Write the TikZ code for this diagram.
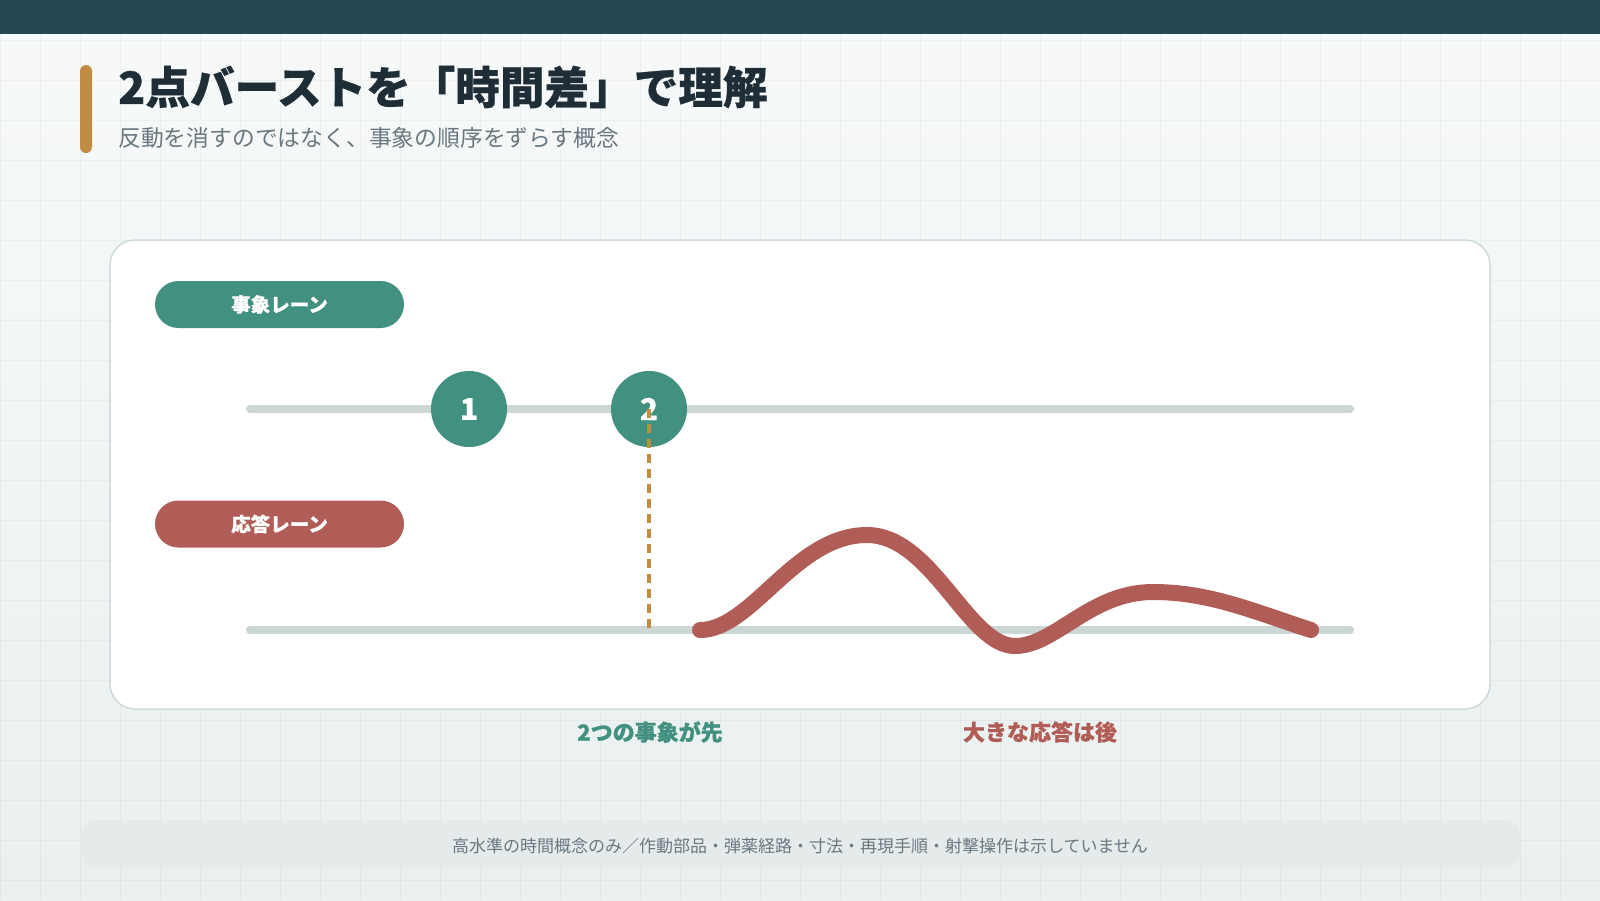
\documentclass[tikz,border=0pt]{standalone}
\usepackage{fontspec}
\usepackage{xcolor}
\newfontfamily\jpfont{Noto Sans CJK JP}
\IfFontExistsTF{Noto Sans CJK JP Black}
  {\newfontfamily\jpheavy[FakeBold=0.6]{Noto Sans CJK JP Black}}
  {\IfFontExistsTF{Noto Sans CJK JP Bold}
     {\newfontfamily\jpheavy[FakeBold=2.2]{Noto Sans CJK JP Bold}}
     {\newfontfamily\jpheavy[FakeBold=3.5]{Noto Sans CJK JP}}}
\definecolor{barc}{HTML}{264853}
\definecolor{goldc}{HTML}{C08D42}
\definecolor{titlec}{HTML}{1E2D36}
\definecolor{subc}{HTML}{6A7880}
\definecolor{eventc}{HTML}{42907F}
\definecolor{respc}{HTML}{B05D57}
\definecolor{lanec}{HTML}{CBD6D5}
\definecolor{cardc}{HTML}{CFDADA}
\definecolor{bgtop}{HTML}{F8FAFA}
\definecolor{bgbot}{HTML}{E9F0EF}
\definecolor{footc}{HTML}{E5EBEB}

\begin{document}
\begin{tikzpicture}[x=1pt,y=-1pt,
    lanepill/.style={rounded corners=23.5pt, minimum width=249pt, minimum height=47pt,
                     inner sep=0pt, text=white, font=\jpheavy\fontsize{19.5}{20}\selectfont},
    eventdot/.style={circle, fill=eventc, minimum size=76pt, inner sep=0pt,
                     text=white, font=\jpheavy\fontsize{30}{30}\selectfont},
    laneline/.style={lanec, line width=8pt, line cap=round},
    note/.style={inner sep=0pt, font=\jpheavy\fontsize{22}{24}\selectfont}]
\useasboundingbox (0,0) rectangle (1600,900);
\shade[top color=bgtop, bottom color=bgbot] (0,0) rectangle (1600,900);
\draw[black, opacity=0.035, line width=0.8pt, step=40pt] (0,0) grid (1600,900);
\fill[barc] (0,0) rectangle (1600,34);

% heading
\fill[goldc, rounded corners=6pt] (80,65) rectangle (92,153);
\node[anchor=west, inner sep=0pt, text=titlec, font=\jpheavy\fontsize{44.6}{48}\selectfont] (title) at (118,87)
    {2点バーストを「時間差」で理解};
\node[anchor=west, inner sep=0pt, text=subc, font=\jpfont\fontsize{22.8}{24}\selectfont] (subtitle) at (118,138)
    {反動を消すのではなく、事象の順序をずらす概念};

% card
\draw[cardc, line width=1.5pt, fill=white, rounded corners=25pt] (110,240) rectangle (1490,709);

\node[lanepill, fill=eventc] (eventlane) at (279.5,304.5) {事象レーン};
\node[lanepill, fill=respc] (resplane) at (279.5,524) {応答レーン};

\coordinate (e0) at (250,409);
\coordinate (e1) at (1350,409);
\coordinate (r0) at (250,630);
\coordinate (r1) at (1350,630);
\draw[laneline] (e0) -- (e1);
\draw[laneline] (r0) -- (r1);

\node[eventdot] (ev1) at (469,409) {1};
\node[eventdot] (ev2) at (649,409) {2};

\coordinate (mark) at (649,630);
\draw[goldc, line width=4pt, dash pattern=on 9pt off 6pt] (ev2.center) -- (mark);

\coordinate (s0) at (700,630);
\coordinate (s1) at (867,535);
\coordinate (s2) at (1015,646);
\coordinate (s3) at (1153,592);
\coordinate (s4) at (1311,630);
\draw[respc, line width=16pt, line cap=round]
    (s0) .. controls (752,630) and (795,535) .. (s1)
         .. controls (932,535) and (968,646) .. (s2)
         .. controls (1055,646) and (1090,592) .. (s3)
         .. controls (1210,592) and (1255,612) .. (s4);

\node[note, text=eventc] (first) at (650,732) {2つの事象が先};
\node[note, text=respc] (later) at (1040,732) {大きな応答は後};

% footer
\fill[footc, rounded corners=16pt] (80,820) rectangle (1520,868);
\node[inner sep=0pt, text=subc, font=\jpfont\fontsize{17}{18}\selectfont] (footnote) at (800,846)
    {高水準の時間概念のみ／作動部品・弾薬経路・寸法・再現手順・射撃操作は示していません};
\end{tikzpicture}
\end{document}
